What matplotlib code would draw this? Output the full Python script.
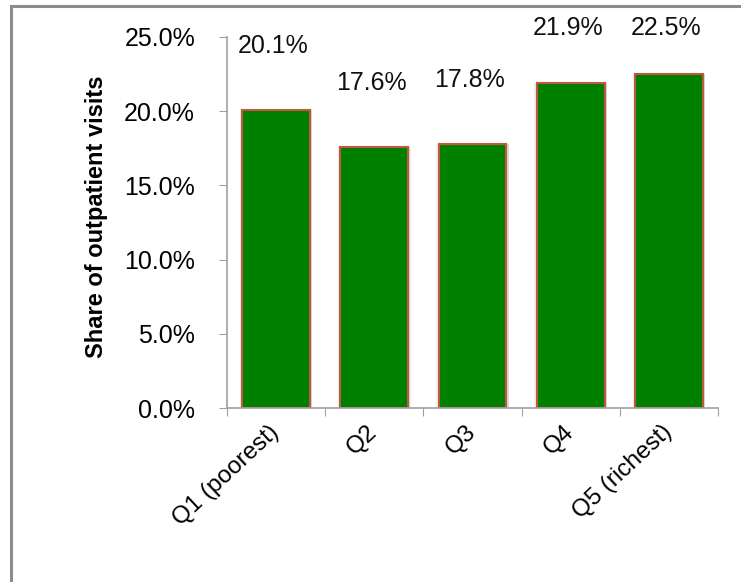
import matplotlib
matplotlib.use("Agg")
import matplotlib.pyplot as plt
import matplotlib.ticker as ticker
import matplotlib.transforms as mtransforms
from matplotlib.patches import Rectangle
import numpy as np

plt.rcParams['font.family'] = ['Liberation Sans', 'DejaVu Sans']

# data
categories = ['Q1 (poorest)', 'Q2', 'Q3', 'Q4', 'Q5 (richest)']
shares = [20.1, 17.6, 17.8, 21.9, 22.5]
labels = ['20.1%', '17.6%', '17.8%', '21.9%', '22.5%']

fig = plt.figure(figsize=(7.41, 5.82), dpi=100)
ax = fig.add_axes((227 / 741, 1 - 408 / 582, 491 / 741, 371 / 582))

x = np.arange(len(categories))
bw = 0.69

# soft glow/shadow round the bars
ax.bar(x, shares, width=bw + 0.05, color='#bdbdbd', alpha=0.25, zorder=1,
       linewidth=0)
ax.bar(x + 0.01, shares, width=bw + 0.025, color='#b0b0b0', alpha=0.35,
       zorder=1, linewidth=0)
ax.bar(x, shares, width=bw, color='#008000', edgecolor='#c0583e',
       linewidth=1.5, zorder=2)

# data labels: floated above the bars, kept inside the chart area
for xi, v, lab in zip(x, shares, labels):
    ly = min(v + 3.8, 25.15)
    ax.text(xi - 0.03, ly, lab, ha='center', va='baseline', fontsize=18,
            color='#111111', clip_on=False)

ax.set_xlim(-0.5, len(categories) - 0.5)
ax.set_ylim(0, 25)
ax.yaxis.set_major_locator(ticker.MultipleLocator(5))
ax.yaxis.set_major_formatter(ticker.FuncFormatter(lambda v, p: '%.1f%%' % v))

# x ticks on category boundaries, labels on centres
ax.set_xticks(np.arange(-0.5, len(categories), 1.0))
ax.set_xticklabels([])
ax.set_xticks(x, minor=True)
ax.set_xticklabels(categories, minor=True, rotation=43, ha='right',
                   va='center', rotation_mode='anchor', fontsize=17.5)
shift = mtransforms.ScaledTranslation(16 / 100, 0, fig.dpi_scale_trans)
for lbl in ax.get_xticklabels(minor=True):
    lbl.set_transform(lbl.get_transform() + shift)
ax.tick_params(axis='x', which='minor', length=0, pad=15)
ax.tick_params(axis='x', which='major', length=6, color='#a0a0a0',
               direction='out')
ax.tick_params(axis='y', length=6, color='#a0a0a0', direction='out',
               labelsize=18, pad=17)

for side in ['top', 'right']:
    ax.spines[side].set_visible(False)
for side in ['left', 'bottom']:
    ax.spines[side].set_color('#a0a0a0')
    ax.spines[side].set_linewidth(1.2)

fig.text(97 / 741, 1 - 217 / 582, 'Share of outpatient visits', rotation=90,
         ha='center', va='center', fontsize=17, fontweight='bold')

# outer frame (runs off right and bottom edges)
fig.patches.append(Rectangle((11 / 741, -0.1), 1.2, 1 - 6 / 582 + 0.1,
                             transform=fig.transFigure, fill=False,
                             edgecolor='#8c8c8c', linewidth=2.2))

fig.savefig('out.png', dpi=100)
